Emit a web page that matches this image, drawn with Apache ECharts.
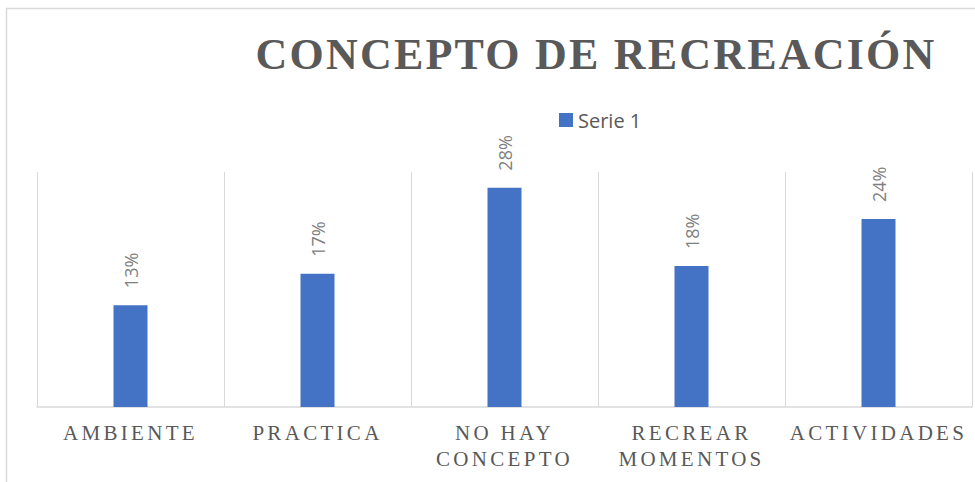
<!DOCTYPE html>
<html>
<head>
<meta charset="utf-8">
<script src="https://cdn.jsdelivr.net/npm/echarts@6/dist/echarts.min.js"></script>
<style>
  html, body { margin: 0; padding: 0; background: #ffffff; }
  #chart { width: 975px; height: 482px; }
  #chart text[style*="21px"] { letter-spacing: 3.3px; }
  #chart text[style*="44px"] { letter-spacing: 2.2px; }
</style>
</head>
<body>
<div id="chart"></div>
<script>
const titleText = 'CONCEPTO DE RECREACIÓN';
const seriesName = 'Serie 1';
const categories = ['AMBIENTE', 'PRACTICA', 'NO HAY\nCONCEPTO', 'RECREAR\nMOMENTOS', 'ACTIVIDADES'];
const values = [13, 17, 28, 18, 24];

const chart = echarts.init(document.getElementById('chart'), null, { renderer: 'svg' });
chart.setOption({
  backgroundColor: '#ffffff',
  animation: false,
  title: {
    text: titleText,
    left: 596,
    top: 32,
    padding: 0,
    textAlign: 'center',
    textStyle: {
      fontFamily: 'Liberation Serif',
      fontWeight: 'bold',
      fontSize: 44,
      color: '#595959'
    }
  },
  graphic: [{
    type: 'rect',
    shape: { x: 6.5, y: 8.5, width: 1000, height: 500 },
    style: { fill: 'none', stroke: '#d9d9d9', lineWidth: 1.5 },
    silent: true,
    z: -10
  }],
  legend: {
    data: [seriesName],
    left: 559,
    top: 110,
    padding: 0,
    icon: 'rect',
    itemWidth: 14,
    itemHeight: 14,
    itemGap: 10,
    textStyle: { fontFamily: 'Open Sans', fontSize: 20, color: '#595959' }
  },
  grid: { left: 37, right: 3, top: 172, bottom: 75, containLabel: false },
  xAxis: {
    type: 'category',
    data: categories,
    axisLine: { show: true, lineStyle: { color: '#d9d9d9', width: 1.5 } },
    axisTick: { show: false },
    splitLine: { show: true, lineStyle: { color: '#d9d9d9', width: 1 } },
    axisLabel: {
      interval: 0,
      margin: 13,
      fontFamily: 'Liberation Serif',
      fontSize: 21,
      lineHeight: 26,
      color: '#595959'
    }
  },
  yAxis: {
    type: 'value',
    min: 0,
    max: 30,
    show: false,
    splitLine: { show: false }
  },
  series: [{
    name: seriesName,
    type: 'bar',
    data: values,
    barWidth: 34,
    itemStyle: { color: '#4472C4' },
    label: {
      show: true,
      position: 'top',
      rotate: 90,
      align: 'left',
      verticalAlign: 'middle',
      distance: 17,
      formatter: '{c}%',
      fontFamily: 'Open Sans',
      fontSize: 18,
      color: '#7f7f7f'
    }
  }]
});
</script>
</body>
</html>
